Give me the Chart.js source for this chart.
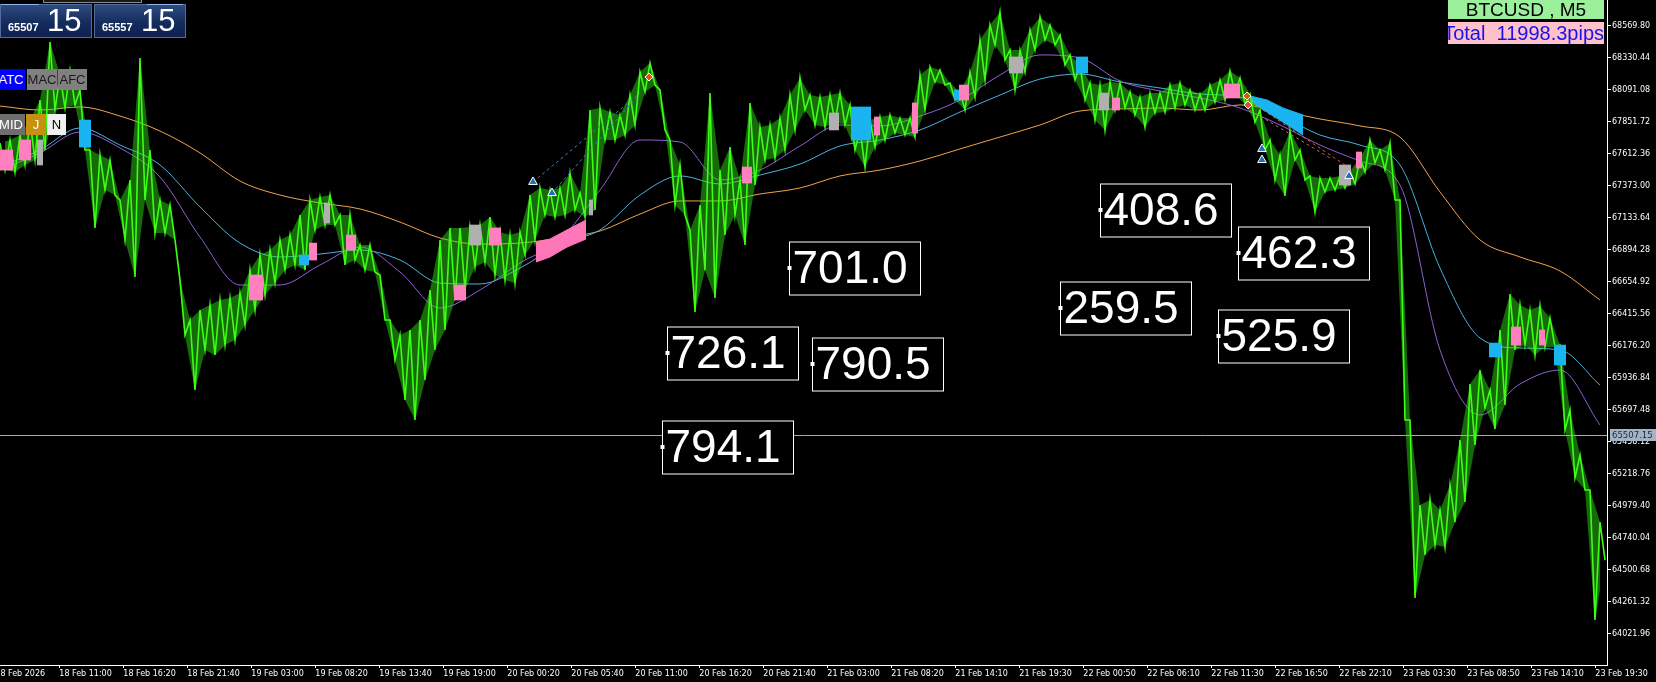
<!DOCTYPE html>
<html>
<head>
<meta charset="utf-8">
<script src="https://cdn.jsdelivr.net/npm/chart.js@4.4.1/dist/chart.umd.min.js"></script>
<style>
  body { margin: 0; background: #000; }
  #wrap { position: relative; width: 1656px; height: 682px; overflow: hidden; background: #000; }
  #wrap canvas { position: absolute; left: 0; top: 0; }
  .ov { position: absolute; box-sizing: border-box; font-family: "Liberation Sans", Arial, sans-serif; z-index: 2; }
  .topstrip { left: 43px; top: -8px; width: 99px; height: 11px; border: 1px solid #8a8a8a; background: #1a1a1a; }
  .panel { top: 4px; width: 92px; height: 34px; border: 1px solid #4f6c9c; color: #fff;
           background: linear-gradient(#2d4b82, #132a5a 60%, #0e2150); }
  .panel .hl { position: absolute; top: -1px; height: 1px; background: #8fb4e6; }
  .panel .small { position: absolute; left: 7px; bottom: 4px; font-size: 11px; font-weight: bold; }
  .panel .big { position: absolute; left: 46px; top: 0; font-size: 31px; line-height: 31px; }
  .btn { height: 21px; line-height: 21px; font-size: 13px; text-align: center; }
  .sym { left: 1448px; top: 0; width: 156px; height: 19px; background: #9cf09c; color: #000;
         font-size: 19px; line-height: 19px; text-align: center; }
  .tot { left: 1448px; top: 22px; width: 156px; height: 22px; background: #ffc0cb; color: #1414e6;
         font-size: 20px; line-height: 22px; white-space: nowrap; overflow: hidden; direction: rtl; }
</style>
</head>
<body>
<div id="wrap">
  <canvas id="chart" width="1656" height="682"></canvas>

  <div class="ov topstrip"></div>
  <div class="ov panel" style="left:0">
    <div class="hl" style="left:0;width:38px"></div>
    <span class="small">65507</span><span class="big">15</span>
  </div>
  <div class="ov panel" style="left:94px">
    <div class="hl" style="left:52px;width:36px"></div>
    <span class="small">65557</span><span class="big">15</span>
  </div>

  <div class="ov btn" style="left:-3px;top:69px;width:28px;background:#0000ff;color:#fff">ATC</div>
  <div class="ov btn" style="left:27px;top:69px;width:30px;background:#808080;color:#1a1a1a">MAC</div>
  <div class="ov btn" style="left:58px;top:69px;width:29px;background:#808080;color:#1a1a1a">AFC</div>
  <div class="ov btn" style="left:-3px;top:114px;width:28px;background:#6e6e6e;color:#fff">MID</div>
  <div class="ov btn" style="left:26px;top:114px;width:20px;background:#c8900f;color:#fff">J</div>
  <div class="ov btn" style="left:47px;top:114px;width:19px;background:#f0f0f0;color:#000">N</div>

  <div class="ov sym">BTCUSD , M5</div>
  <div class="ov tot"><span style="direction:ltr;unicode-bidi:embed">Total&nbsp;&nbsp;11998.3pips</span></div>
</div>

<script>
// BTCUSD M5 - one unit on the x axis is one 5-minute bar

const X_LABELS = [
    '18 Feb 2026', '18 Feb 11:00', '18 Feb 16:20', '18 Feb 21:40', '19 Feb 03:00', '19 Feb 08:20',
    '19 Feb 13:40', '19 Feb 19:00', '20 Feb 00:20', '20 Feb 05:40', '20 Feb 11:00', '20 Feb 16:20',
    '20 Feb 21:40', '21 Feb 03:00', '21 Feb 08:20', '21 Feb 14:10', '21 Feb 19:30', '22 Feb 00:50',
    '22 Feb 06:10', '22 Feb 11:30', '22 Feb 16:50', '22 Feb 22:10', '23 Feb 03:30', '23 Feb 08:50',
    '23 Feb 14:10', '23 Feb 19:30'
];
const BARS_PER_LABEL = 64;
const FIRST_LABEL_BAR = -4.7;
const LAST_BAR = 1607;

const Y_TICKS = [
    64021.96, 64261.32, 64500.68, 64740.04, 64979.40, 65218.76, 65458.12, 65697.48, 65936.84, 66176.20,
    66415.56, 66654.92, 66894.28, 67133.64, 67373.00, 67612.36, 67851.72, 68091.08, 68330.44, 68569.80
];
const Y_MIN = 63788;
const Y_MAX = 68762;
const CURRENT_PRICE = 65507.15;

// price range read every 10 bars
const STEP = 10;
const HIGHS = [
    67692, 67715, 67752, 67864, 68014, 68448, 68201, 68238, 68089, 67640,
    67603, 67565, 67266, 67416, 68328, 67640, 67266, 67229, 66668, 66368,
    66443, 66481, 66518, 66533, 66570, 66742, 66855, 66892, 66967, 67004,
    67154, 67266, 67288, 67303, 67154, 67154, 66929, 66929, 66705, 66368,
    66256, 66294, 66368, 66593, 66967, 67057, 67057, 67064, 67079, 67139,
    67027, 67004, 67027, 67303, 67356, 67341, 67356, 67468, 67318, 67939,
    67954, 67924, 67902, 68051, 68223, 68291, 68089, 67715, 67528, 67042,
    67229, 68066, 67490, 67662, 67416, 67992, 67812, 67827, 67879, 68051,
    68179, 68051, 68036, 68051, 68066, 67977, 67790, 67864, 67887, 67902,
    67879, 67879, 68201, 68261, 68238, 68141, 68074, 68223, 68463, 68575,
    68672, 68388, 68388, 68538, 68635, 68575, 68500, 68351, 68276, 68141,
    68126, 68149, 68141, 68074, 68036, 68066, 68066, 68126, 68141, 68089,
    68059, 68126, 68164, 68231, 68179, 68059, 67939, 67715, 67603, 67782,
    67640, 67446, 67431, 67431, 67446, 67483, 67580, 67715, 67640, 67692,
    67266, 65620, 64985, 65022, 64947, 65134, 65471, 65890, 65994, 65845,
    66294, 66563, 66481, 66443, 66473, 66383, 66181, 65695, 65359, 65097,
    64857
];
const LOWS = [
    67490, 67475, 67528, 67565, 67640, 67939, 67954, 67977, 67640, 67057,
    67341, 67303, 66967, 66690, 67266, 67019, 67019, 66967, 66256, 65845,
    66144, 66107, 66181, 66219, 66331, 66443, 66555, 66645, 66742, 66780,
    66742, 67042, 67079, 67079, 66780, 66817, 66742, 66727, 66368, 66069,
    65770, 65620, 65920, 66144, 66294, 66518, 66593, 66765, 66802, 66705,
    66668, 66645, 66855, 66967, 67154, 67139, 67154, 67191, 67139, 67191,
    67715, 67715, 67752, 67827, 68074, 68126, 67790, 67229, 67154, 66428,
    66742, 66533, 67004, 67154, 66929, 67378, 67565, 67580, 67640, 67790,
    67939, 67827, 67812, 67849, 67827, 67640, 67513, 67662, 67715, 67767,
    67752, 67737, 67939, 68149, 68126, 68014, 67939, 68036, 68164, 68425,
    68313, 68089, 68223, 68388, 68463, 68425, 68276, 68164, 68014, 67864,
    67790, 67939, 67954, 67902, 67812, 67917, 67924, 67954, 67977, 67939,
    67939, 67999, 68014, 68059, 67984, 67849, 67640, 67416, 67296, 67565,
    67416, 67176, 67326, 67341, 67356, 67386, 67475, 67543, 67490, 67266,
    65620, 64289, 64611, 64685, 64670, 64857, 65007, 65433, 65710, 65553,
    65733, 66144, 66181, 66107, 66166, 66166, 65546, 65187, 65097, 64124,
    64573
];

// moving averages read every 40 bars
const MA_STEP = 40;
const SLOW_MA = [
    67969, 67939, 67962, 67894, 67782, 67618, 67408, 67303, 67244, 67199,
    67101, 66982, 66937, 66944, 66982, 67034, 67161, 67259, 67259, 67311,
    67356, 67446, 67490, 67558, 67648, 67737, 67827, 67932, 67947, 67954,
    67939, 67977, 67932, 67872, 67820, 67737, 67326, 66967, 66840, 66735,
    66518
];
const MID_MA = [
    67513, 67640, 67805, 67677, 67528, 67214, 66944, 66840, 66862, 66892,
    66817, 66645, 66638, 66757, 66937, 67042, 67303, 67446, 67386, 67453,
    67535, 67670, 67715, 67790, 67924, 68051, 68171, 68208, 68149, 68104,
    68059, 68036, 67902, 67752, 67677, 67528, 66757, 66234, 66159, 66144,
    65882
];
const FAST_MA = [
    67490, 67618, 67775, 67655, 67438, 66989, 66630, 66630, 66780, 66914,
    66727, 66458, 66593, 66795, 66967, 67341, 67715, 67700, 67416, 67490,
    67670, 67827, 67820, 67894, 68014, 68201, 68351, 68328, 68156, 68081,
    68029, 67954, 67827, 67677, 67558, 67378, 66144, 65658, 65890, 65994,
    65583
];

// coloured bands
const PINK_BAND_BARS = [536, 550, 567, 586];
const PINK_BAND_TOP = [66952, 66974, 67042, 67116];
const PINK_BAND_BOTTOM = [66802, 66840, 66914, 66974];
const BLUE_BAND_BARS = [1250, 1267, 1283, 1303];
const BLUE_BAND_TOP = [68044, 68014, 67954, 67902];
const BLUE_BAND_BOTTOM = [67999, 67924, 67849, 67752];

// small signal patches: first bar, last bar, top, bottom
const PINK_START = [0, 20, 250, 310, 347, 455, 490, 743, 875, 913, 960, 1113, 1225, 1357, 1512, 1540];
const PINK_END = [12, 30, 262, 317, 355, 465, 500, 752, 880, 918, 968, 1120, 1240, 1362, 1520, 1545];
const PINK_TOP = [67640, 67715, 66705, 66944, 67004, 66630, 67057, 67513, 67887, 67992, 68126, 68029, 68134, 67625, 66316, 66294];
const PINK_BOTTOM = [67490, 67565, 66518, 66817, 66892, 66518, 66929, 67393, 67752, 67767, 68014, 67939, 68029, 67505, 66181, 66181];
const GREY_START = [38, 325, 470, 590, 830, 1010, 1100, 1340];
const GREY_END = [42, 330, 480, 593, 838, 1023, 1108, 1350];
const GREY_TOP = [67715, 67244, 67079, 67266, 67917, 68336, 68066, 67528];
const GREY_BOTTOM = [67528, 67094, 66929, 67154, 67790, 68216, 67939, 67378];
const CYAN_START = [80, 300, 852, 955, 1077, 1490, 1555];
const CYAN_END = [90, 308, 870, 963, 1087, 1500, 1565];
const CYAN_TOP = [67864, 66855, 67962, 68089, 68336, 66196, 66181];
const CYAN_BOTTOM = [67662, 66780, 67715, 68014, 68216, 66092, 66032];

// trades
const BUY_LINE_1_BARS = [533, 640];
const BUY_LINE_1_PRICES = [67401, 68066];
const BUY_LINE_2_BARS = [552, 636];
const BUY_LINE_2_PRICES = [67318, 68029];
const SELL_LINE_1_BARS = [1248, 1345];
const SELL_LINE_1_PRICES = [68014, 67528];
const SELL_LINE_2_BARS = [1250, 1330];
const SELL_LINE_2_PRICES = [67939, 67580];
const BUY_MARK_BARS = [533, 552, 1262, 1262, 1349];
const BUY_MARK_PRICES = [67401, 67318, 67648, 67565, 67446];
const SELL_MARK_BARS = [649, 1247, 1248];
const SELL_MARK_PRICES = [68186, 68044, 67977];

// profit boxes
const BOX_LABELS = ['701.0', '726.1', '790.5', '794.1', '408.6', '259.5', '462.3', '525.9'];
const BOX_BARS = [789, 667, 812, 662, 1100, 1060, 1238, 1218];
const BOX_PRICES = [66759, 66118, 66043, 65415, 67193, 66458, 66870, 66252];

const toPoints = (bars, values) => values.map((v, i) => ({ x: bars[i], y: v }));
const stepPoints = (values, step, shift = 0) => values.map((v, i) => ({ x: i * step + shift, y: v }));

const pricePath = [];
HIGHS.forEach((h, i) => {
    pricePath.push({ x: i * STEP, y: h });
    pricePath.push({ x: i * STEP + STEP / 2, y: LOWS[i] });
});

// one thin bar every other bar across each patch, like the indicator histogram
function patchBars(starts, ends, tops, bottoms) {
    const out = [];
    starts.forEach((s, i) => {
        for (let b = s; b <= ends[i]; b += 2) out.push({ x: b, y: [bottoms[i], tops[i]] });
    });
    return out;
}

function patchSet(starts, ends, tops, bottoms, color) {
    return {
        type: 'bar', data: patchBars(starts, ends, tops, bottoms), backgroundColor: color,
        barThickness: 1.4, grouped: false, order: 1.5
    };
}

function maLine(data, color) {
    return {
        data: stepPoints(data, MA_STEP), borderColor: color, borderWidth: 1,
        pointRadius: 0, cubicInterpolationMode: 'monotone', order: 5
    };
}

function tradeLine(bars, prices, color) {
    return {
        data: toPoints(bars, prices), borderColor: color, borderWidth: 1,
        borderDash: [3, 3], pointRadius: 0, order: 1
    };
}

const overlayPlugin = {
    id: 'overlay',
    afterDatasetsDraw(chart) {
        const { ctx, chartArea, scales: { x, y } } = chart;
        ctx.save();

        // current price line
        const py = Math.round(y.getPixelForValue(CURRENT_PRICE)) + 0.5;
        ctx.strokeStyle = '#a8a8a8';
        ctx.lineWidth = 1;
        ctx.beginPath();
        ctx.moveTo(chartArea.left, py);
        ctx.lineTo(chartArea.right, py);
        ctx.stroke();

        // profit boxes
        ctx.font = '46px "Liberation Sans", Arial, sans-serif';
        ctx.textBaseline = 'middle';
        ctx.textAlign = 'left';
        BOX_LABELS.forEach((label, i) => {
            const bx = Math.round(x.getPixelForValue(BOX_BARS[i])) + 0.5;
            const by = Math.round(y.getPixelForValue(BOX_PRICES[i]));
            ctx.fillStyle = '#000';
            ctx.fillRect(bx, by - 26, 131, 53);
            ctx.strokeStyle = '#fff';
            ctx.strokeRect(bx, by - 26, 131, 53);
            ctx.fillStyle = '#fff';
            ctx.fillText(label, bx + 3, by + 2);
            ctx.fillRect(bx - 2, by - 2, 4, 4);
        });
        ctx.restore();
    },
    afterDraw(chart) {
        const { ctx, chartArea, scales: { y } } = chart;
        const py = Math.round(y.getPixelForValue(CURRENT_PRICE));
        ctx.save();
        ctx.fillStyle = '#a3b3c6';
        ctx.fillRect(chartArea.right + 3, py - 6, 46, 12);
        ctx.fillStyle = '#1c2634';
        ctx.font = '8.5px "DejaVu Sans", sans-serif';
        ctx.textBaseline = 'middle';
        ctx.fillText(CURRENT_PRICE.toFixed(2), chartArea.right + 5, py + 0.5);
        ctx.restore();
    }
};

new Chart(document.getElementById('chart').getContext('2d'), {
    type: 'line',
    data: {
        datasets: [
            {
                data: toPoints(BUY_MARK_BARS, BUY_MARK_PRICES), showLine: false,
                pointStyle: 'triangle', pointRadius: 5, pointBackgroundColor: '#1d6fb8',
                pointBorderColor: '#fff', pointBorderWidth: 1, order: 0
            },
            {
                data: toPoints(SELL_MARK_BARS, SELL_MARK_PRICES), showLine: false,
                pointStyle: 'rectRot', pointRadius: 4, pointBackgroundColor: '#e0501e',
                pointBorderColor: '#fff', pointBorderWidth: 1, order: 0
            },
            tradeLine(BUY_LINE_1_BARS, BUY_LINE_1_PRICES, '#3d7fc0'),
            tradeLine(BUY_LINE_2_BARS, BUY_LINE_2_PRICES, '#3d7fc0'),
            tradeLine(SELL_LINE_1_BARS, SELL_LINE_1_PRICES, '#d0603a'),
            tradeLine(SELL_LINE_2_BARS, SELL_LINE_2_PRICES, '#d0603a'),
            patchSet(PINK_START, PINK_END, PINK_TOP, PINK_BOTTOM, '#ff7fbf'),
            patchSet(GREY_START, GREY_END, GREY_TOP, GREY_BOTTOM, '#b0b0b0'),
            patchSet(CYAN_START, CYAN_END, CYAN_TOP, CYAN_BOTTOM, '#1ab4f0'),
            {
                data: pricePath, borderColor: '#3cff14', borderWidth: 1.6,
                pointRadius: 0, tension: 0, order: 2
            },
            {
                data: stepPoints(HIGHS, STEP), borderWidth: 0, pointRadius: 0,
                backgroundColor: 'rgba(50, 235, 20, 0.45)', fill: '+1', order: 2
            },
            {
                data: stepPoints(LOWS, STEP, STEP / 2), borderWidth: 0, pointRadius: 0, order: 2
            },
            {
                data: toPoints(PINK_BAND_BARS, PINK_BAND_TOP), borderColor: '#ff77b8', borderWidth: 1,
                backgroundColor: '#ff77b8', fill: '+1', pointRadius: 0, order: 3
            },
            {
                data: toPoints(PINK_BAND_BARS, PINK_BAND_BOTTOM), borderColor: '#ff77b8', borderWidth: 1,
                pointRadius: 0, order: 3
            },
            {
                data: toPoints(BLUE_BAND_BARS, BLUE_BAND_TOP), borderColor: '#1ab4f0', borderWidth: 1,
                backgroundColor: '#1ab4f0', fill: '+1', pointRadius: 0, order: 3
            },
            {
                data: toPoints(BLUE_BAND_BARS, BLUE_BAND_BOTTOM), borderColor: '#1ab4f0', borderWidth: 1,
                pointRadius: 0, order: 3
            },
            maLine(FAST_MA, '#8d5fd3'),
            maLine(MID_MA, '#4ab0dc'),
            maLine(SLOW_MA, '#efa24c')
        ]
    },
    options: {
        responsive: false,
        devicePixelRatio: 1,
        animation: false,
        events: [],
        layout: { padding: 0, autoPadding: false },
        plugins: { legend: { display: false }, tooltip: { enabled: false } },
        scales: {
            x: {
                type: 'linear', position: 'bottom', min: 0, max: LAST_BAR, offset: false,
                afterFit: s => { s.height = 17; s.paddingLeft = 0; s.paddingRight = 0; },
                afterBuildTicks: s => {
                    s.ticks = X_LABELS.map((_, i) => ({ value: FIRST_LABEL_BAR + i * BARS_PER_LABEL }));
                },
                grid: { drawOnChartArea: false, offset: false, tickLength: 3, color: '#ffffff' },
                border: { color: '#ffffff' },
                ticks: {
                    color: '#ffffff', align: 'start', maxRotation: 0, autoSkip: false, padding: 1,
                    font: { family: 'DejaVu Sans', size: 8 },
                    callback: (v, i) => X_LABELS[i]
                }
            },
            y: {
                type: 'linear', position: 'right', min: Y_MIN, max: Y_MAX,
                afterFit: s => { s.width = 49; s.paddingTop = 0; s.paddingBottom = 0; },
                afterBuildTicks: s => { s.ticks = Y_TICKS.map(v => ({ value: v })); },
                grid: { drawOnChartArea: false, tickLength: 4, color: '#ffffff' },
                border: { color: '#ffffff' },
                ticks: {
                    color: '#ffffff', padding: 1,
                    font: { family: 'DejaVu Sans', size: 8 },
                    callback: v => v.toFixed(2)
                }
            }
        }
    },
    plugins: [overlayPlugin]
});
</script>
</body>
</html>
